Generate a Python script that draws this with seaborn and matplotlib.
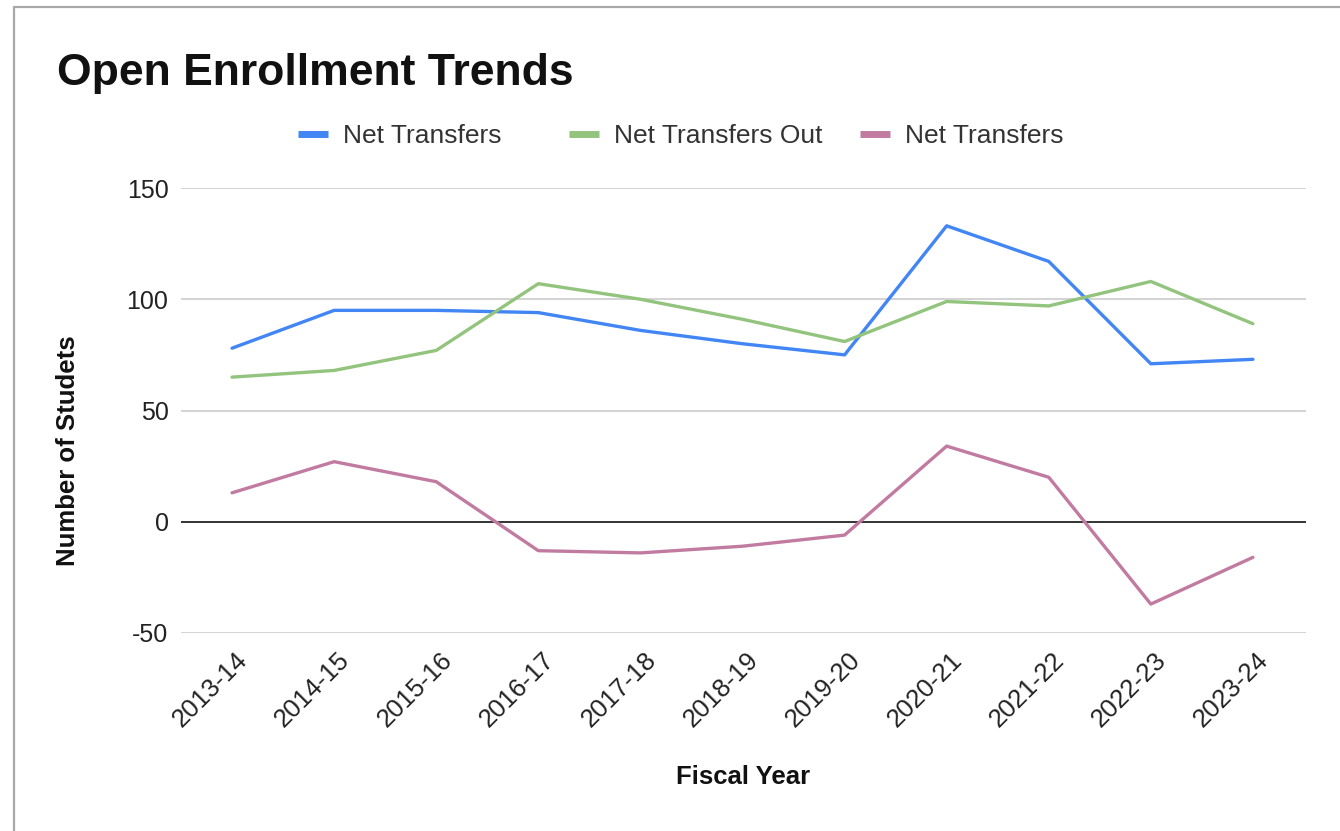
import matplotlib
matplotlib.use("Agg")
import matplotlib.pyplot as plt
import matplotlib.transforms as mtransforms
from matplotlib.lines import Line2D
import seaborn as sns
import pandas as pd

years = ["2013-14", "2014-15", "2015-16", "2016-17", "2017-18", "2018-19",
         "2019-20", "2020-21", "2021-22", "2022-23", "2023-24"]
net_transfers_in = [78, 95, 95, 94, 86, 80, 75, 133, 117, 71, 73]
net_transfers_out = [65, 68, 77, 107, 100, 91, 81, 99, 97, 108, 89]
net_transfers = [13, 27, 18, -13, -14, -11, -6, 34, 20, -37, -16]

series_labels = ["Net Transfers", "Net Transfers Out", "Net Transfers"]
series_colors = ["#4285f4", "#93c47d", "#c27ba0"]
series_values = [net_transfers_in, net_transfers_out, net_transfers]

sns.set_theme(style="white")
plt.rcParams["font.family"] = ["Liberation Sans", "DejaVu Sans"]

W, H = 1340, 831
fig = plt.figure(figsize=(W / 100, H / 100), dpi=100)
fig.patch.set_facecolor("white")

def fx(px):
    return px / W

def fy(py):
    return 1 - py / H

ax = fig.add_axes([fx(181), fy(633), fx(1306) - fx(181), fy(188) - fy(633)])

x_idx = list(range(len(years)))
for vals, col, lab in zip(series_values, series_colors, series_labels):
    df = pd.DataFrame({"x": x_idx, "y": vals})
    sns.lineplot(data=df, x="x", y="y", color=col, linewidth=2.4, ax=ax,
                 label=lab, legend=False)

ax.set_xlim(-0.5, 10.52)
ax.set_ylim(-50, 150)
ax.set_yticks([-50, 0, 50, 100, 150])
ax.set_yticklabels(["-50", "0", "50", "100", "150"])
ax.set_xticks(x_idx)
ax.set_xticklabels(years)

for y in [-50, 50, 100, 150]:
    ax.axhline(y, color="#cccccc", linewidth=1.2, zorder=0)
ax.axhline(0, color="#333333", linewidth=1.4, zorder=1)

for s in ax.spines.values():
    s.set_visible(False)

ax.tick_params(axis="y", length=0, pad=9, labelsize=18, labelcolor="#222222")
ax.tick_params(axis="x", length=0, pad=17, labelsize=18.5, labelcolor="#222222")
offset = mtransforms.ScaledTranslation(12 / 100, 0, fig.dpi_scale_trans)
for lbl in ax.get_xticklabels():
    lbl.set_rotation(45)
    lbl.set_ha("right")
    lbl.set_va("center")
    lbl.set_rotation_mode("anchor")
    lbl.set_transform(lbl.get_transform() + offset)

ax.set_xlabel("")
ax.set_ylabel("")
fig.text(fx(743), fy(777), "Fiscal Year", ha="center", va="center",
         fontsize=18.5, fontweight="bold", color="#111111")
fig.text(fx(68), fy(451), "Number of Studets", ha="center", va="center",
         rotation=90, fontsize=18.5, fontweight="bold", color="#111111")

fig.text(fx(57), fy(74), "Open Enrollment Trends", ha="left", va="center",
         fontsize=32, fontweight="bold", color="#111111")

# legend entries
legend_x = [298, 569, 860]
for xpos, col, lab in zip(legend_x, series_colors, series_labels):
    h = Line2D([0], [0], color=col, linewidth=5, solid_capstyle="butt")
    leg = fig.legend([h], [lab], loc="center left",
                     bbox_to_anchor=(fx(xpos), fy(136)), frameon=False,
                     borderpad=0, borderaxespad=0, handlelength=1.15,
                     handletextpad=0.55, fontsize=19)
    for t in leg.get_texts():
        t.set_color("#333333")

# outer frame of the screenshot
fig.add_artist(Line2D([fx(14), 1], [fy(7), fy(7)], color="#a8a8a8", linewidth=1.6))
fig.add_artist(Line2D([fx(14), fx(14)], [fy(7), 0], color="#a8a8a8", linewidth=1.6))

fig.savefig("out.png", dpi=100, facecolor="white")
